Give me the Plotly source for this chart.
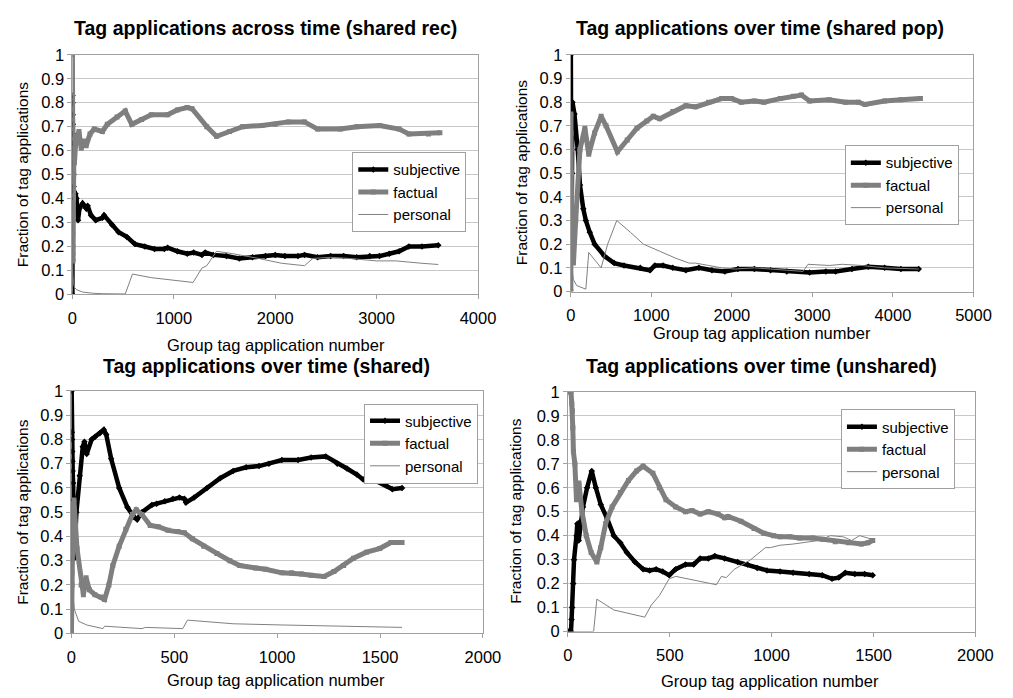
import plotly.graph_objects as go

# ---------------- data ----------------
# Panel 1: shared rec
p1_subj_x = [0, 1, 2, 3, 4, 5, 6, 7, 8, 10, 12, 15, 20, 30, 40, 55, 70, 100, 135, 150, 183, 230, 296, 312, 392, 456, 537, 617, 714, 810, 907, 939, 1035, 1132, 1196, 1277, 1309, 1389, 1518, 1646, 1775, 1904, 2000, 2096, 2225, 2289, 2418, 2547, 2675, 2804, 2932, 3029, 3125, 3222, 3318, 3447, 3608]
p1_subj_y = [0, 0.83, 0.8, 0.75, 0.71, 0.67, 0.63, 0.6, 0.55, 0.5, 0.45, 0.43, 0.4, 0.42, 0.4, 0.31, 0.36, 0.38, 0.36, 0.37, 0.33, 0.31, 0.32, 0.33, 0.29, 0.26, 0.24, 0.21, 0.2, 0.19, 0.19, 0.195, 0.18, 0.17, 0.175, 0.165, 0.175, 0.165, 0.16, 0.15, 0.155, 0.16, 0.165, 0.16, 0.16, 0.165, 0.155, 0.16, 0.16, 0.155, 0.16, 0.16, 0.17, 0.18, 0.2, 0.2, 0.205]
p1_fact_x = [0, 1, 2, 3, 4, 5, 6, 8, 12, 15, 20, 30, 45, 64, 87, 119, 135, 174, 215, 296, 344, 440, 521, 585, 682, 778, 939, 1035, 1132, 1180, 1325, 1421, 1550, 1678, 1871, 2000, 2129, 2289, 2418, 2643, 2804, 3029, 3222, 3318, 3511, 3624]
p1_fact_y = [1.0, 0.5, 0.33, 0.25, 0.2, 0.17, 0.14, 0.33, 0.5, 0.6, 0.55, 0.62, 0.66, 0.68, 0.61, 0.64, 0.62, 0.67, 0.69, 0.68, 0.71, 0.74, 0.765, 0.71, 0.73, 0.75, 0.75, 0.77, 0.78, 0.775, 0.7, 0.66, 0.68, 0.7, 0.705, 0.71, 0.72, 0.72, 0.69, 0.69, 0.7, 0.705, 0.69, 0.67, 0.67, 0.675]
p1_pers_x = [0, 2, 5, 10, 20, 40, 100, 200, 300, 521, 592, 778, 1003, 1190, 1277, 1325, 1421, 1582, 1839, 2064, 2289, 2370, 2547, 2740, 2997, 3190, 3447, 3608]
p1_pers_y = [0, 0.15, 0.08, 0.05, 0.03, 0.02, 0.01, 0.005, 0.003, 0.002, 0.085, 0.07, 0.06, 0.05, 0.11, 0.12, 0.18, 0.17, 0.15, 0.13, 0.12, 0.15, 0.155, 0.15, 0.14, 0.14, 0.13, 0.125]

# Panel 2: shared pop
p2_subj_x = [0, 2, 4, 6, 8, 10, 14, 20, 45, 85, 113, 154, 186, 235, 295, 417, 538, 660, 862, 983, 1044, 1145, 1266, 1428, 1590, 1752, 1913, 2075, 2278, 2480, 2682, 2965, 3167, 3289, 3491, 3693, 3896, 4098, 4320]
p2_subj_y = [1.0, 0.5, 0.33, 0.25, 0.2, 0.3, 0.5, 0.8, 0.75, 0.6, 0.45, 0.35, 0.3, 0.25, 0.2, 0.15, 0.12, 0.11, 0.1, 0.09, 0.11, 0.11, 0.1, 0.09, 0.1, 0.09, 0.085, 0.095, 0.095, 0.09, 0.085, 0.08, 0.085, 0.085, 0.095, 0.105, 0.1, 0.095, 0.095]
p2_fact_x = [0, 1, 2, 3, 4, 5, 6, 8, 12, 20, 32, 60, 113, 174, 222, 295, 376, 437, 578, 700, 821, 943, 1023, 1104, 1266, 1428, 1550, 1711, 1873, 1994, 2116, 2278, 2399, 2601, 2763, 2864, 2965, 3208, 3410, 3572, 3653, 3896, 4098, 4341]
p2_fact_y = [0, 0.75, 0.67, 0.6, 0.5, 0.4, 0.33, 0.25, 0.2, 0.15, 0.12, 0.3, 0.6, 0.69, 0.58, 0.67, 0.74, 0.7, 0.59, 0.64, 0.69, 0.72, 0.74, 0.73, 0.76, 0.785, 0.78, 0.8, 0.815, 0.815, 0.8, 0.805, 0.8, 0.815, 0.825, 0.83, 0.805, 0.81, 0.8, 0.8, 0.79, 0.805, 0.81, 0.815]
p2_pers_x = [0, 2, 12, 32, 73, 134, 186, 222, 376, 457, 570, 740, 902, 1104, 1307, 1469, 1550, 1711, 1873, 2035, 2278, 2682, 2884, 2945, 3208, 3370, 3612, 3896, 4320]
p2_pers_y = [0, 0.3, 0.1, 0.05, 0.025, 0.015, 0.01, 0.165, 0.1, 0.2, 0.3, 0.25, 0.2, 0.17, 0.14, 0.12, 0.12, 0.11, 0.1, 0.095, 0.1, 0.09, 0.085, 0.115, 0.11, 0.115, 0.11, 0.1, 0.095]

# Panel 3: shared
p3_subj_x = [0, 1, 2, 3, 4, 5, 6, 8, 10, 14, 24, 40, 55, 63, 74, 98, 114, 138, 157, 169, 193, 232, 272, 304, 319, 343, 391, 414, 454, 493, 525, 549, 557, 596, 659, 723, 786, 849, 912, 960, 1023, 1102, 1165, 1236, 1292, 1339, 1387, 1418, 1466, 1530, 1560, 1607]
p3_subj_y = [0, 1.0, 0.83, 0.8, 0.75, 0.71, 0.67, 0.62, 0.55, 0.31, 0.5, 0.65, 0.77, 0.79, 0.74, 0.8, 0.81, 0.825, 0.84, 0.82, 0.72, 0.6, 0.52, 0.48, 0.47, 0.5, 0.53, 0.535, 0.545, 0.555, 0.56, 0.555, 0.54, 0.56, 0.6, 0.64, 0.67, 0.685, 0.69, 0.7, 0.715, 0.715, 0.725, 0.73, 0.7, 0.68, 0.655, 0.635, 0.635, 0.61, 0.595, 0.6]
p3_fact_x = [0, 1, 2, 3, 4, 6, 8, 12, 27, 47, 58, 71, 87, 114, 145, 161, 182, 201, 232, 264, 296, 315, 343, 383, 422, 470, 517, 549, 588, 643, 707, 770, 818, 896, 944, 1023, 1070, 1118, 1165, 1228, 1276, 1323, 1371, 1434, 1498, 1553, 1607]
p3_fact_y = [0, 0.33, 0.25, 0.2, 0.33, 0.4, 0.5, 0.55, 0.35, 0.2, 0.16, 0.23, 0.18, 0.16, 0.15, 0.14, 0.2, 0.28, 0.36, 0.43, 0.49, 0.51, 0.49, 0.445, 0.44, 0.425, 0.42, 0.415, 0.39, 0.36, 0.33, 0.3, 0.28, 0.27, 0.265, 0.25, 0.25, 0.245, 0.24, 0.235, 0.255, 0.28, 0.31, 0.335, 0.35, 0.375, 0.375]
p3_pers_x = [0, 3, 14, 35, 74, 122, 153, 161, 232, 343, 359, 470, 541, 564, 628, 786, 1023, 1260, 1607]
p3_pers_y = [0, 0.2, 0.1, 0.05, 0.035, 0.025, 0.02, 0.03, 0.025, 0.02, 0.025, 0.022, 0.02, 0.055, 0.05, 0.04, 0.035, 0.03, 0.025]

# Panel 4: unshared
p4_subj_x = [0, 5, 10, 15, 18, 21, 26, 30, 42, 46, 53, 62, 74, 94, 117, 137, 161, 193, 225, 257, 289, 329, 369, 401, 433, 465, 497, 529, 577, 617, 649, 689, 721, 769, 833, 881, 929, 977, 1041, 1105, 1184, 1248, 1296, 1329, 1361, 1408, 1456, 1496]
p4_subj_y = [0, 0, 0, 0, 0.05, 0.1, 0.2, 0.3, 0.4, 0.45, 0.38, 0.46, 0.52, 0.6, 0.67, 0.6, 0.53, 0.47, 0.4, 0.37, 0.33, 0.29, 0.26, 0.255, 0.26, 0.25, 0.235, 0.26, 0.28, 0.28, 0.305, 0.305, 0.315, 0.305, 0.29, 0.28, 0.265, 0.255, 0.25, 0.245, 0.24, 0.235, 0.22, 0.225, 0.245, 0.24, 0.24, 0.235]
p4_fact_x = [0, 5, 10, 15, 19, 22, 24, 27, 34, 42, 54, 69, 90, 114, 142, 161, 185, 217, 257, 297, 337, 369, 417, 449, 481, 529, 577, 609, 649, 689, 737, 769, 785, 849, 913, 961, 1009, 1041, 1089, 1137, 1201, 1248, 1312, 1376, 1440, 1472, 1496]
p4_fact_y = [1.0, 1.0, 1.0, 1.0, 0.95, 0.92, 0.85, 0.75, 0.7, 0.55, 0.62, 0.5, 0.4, 0.33, 0.29, 0.35, 0.45, 0.52, 0.58, 0.63, 0.67, 0.69, 0.66, 0.6, 0.55, 0.52, 0.5, 0.505, 0.49, 0.5, 0.49, 0.475, 0.48, 0.46, 0.43, 0.41, 0.4, 0.395, 0.395, 0.39, 0.39, 0.385, 0.375, 0.37, 0.365, 0.37, 0.38]
p4_pers_x = [0, 126, 142, 225, 377, 409, 449, 497, 529, 593, 673, 729, 753, 777, 817, 897, 969, 993, 1041, 1105, 1184, 1232, 1288, 1352, 1392, 1432, 1472, 1496]
p4_pers_y = [0, 0, 0.135, 0.09, 0.06, 0.11, 0.15, 0.22, 0.23, 0.22, 0.205, 0.195, 0.23, 0.225, 0.26, 0.3, 0.35, 0.35, 0.36, 0.365, 0.375, 0.38, 0.4, 0.395, 0.38, 0.4, 0.39, 0.385]

titles = ["Tag applications across time (shared rec)", "Tag applications over time (shared pop)",
          "Tag applications over time (shared)", "Tag applications over time (unshared)"]
series_names = ["subjective", "factual", "personal"]
x_ranges = [4000, 5000, 2000, 2000]
x_dticks = [1000, 1000, 500, 500]
y_tickvals = [0, 0.1, 0.2, 0.3, 0.4, 0.5, 0.6, 0.7, 0.8, 0.9, 1.0]
y_ticktext = ["0", "0.1", "0.2", "0.3", "0.4", "0.5", "0.6", "0.7", "0.8", "0.9", "1"]
x_title = "Group tag application number"
y_title = "Fraction of tag applications"

panels = [
    (p1_subj_x, p1_subj_y, p1_fact_x, p1_fact_y, p1_pers_x, p1_pers_y),
    (p2_subj_x, p2_subj_y, p2_fact_x, p2_fact_y, p2_pers_x, p2_pers_y),
    (p3_subj_x, p3_subj_y, p3_fact_x, p3_fact_y, p3_pers_x, p3_pers_y),
    (p4_subj_x, p4_subj_y, p4_fact_x, p4_fact_y, p4_pers_x, p4_pers_y),
]

# ---------------- layout geometry (pixels) ----------------
W, H = 1013, 698
FONT = "Liberation Sans, Arial, sans-serif"
# plot area boxes: left, right, top, bottom
boxes = [(69, 484, 47, 293), (579, 991, 47, 290), (68, 489, 392, 641), (576, 993, 393, 639)]
# legend: right edge, top edge
legend_pos = [(472, 147), (976, 140), (484, 405), (972, 411)]
title_pos = [(267, 20), (773, 20), (268, 366), (774, 366)]
xtitle_pos = [(277, 345), (775, 333), (277, 689), (783, 690)]
ytitle_x = [18, 528, 18, 523]

SUBJ_C = "#000000"
FACT_C = "#7f7f7f"
PERS_C = "#808080"

fig = go.Figure()
annotations = []
layout_axes = {}
for i, (sx, sy, fx, fy, px, py) in enumerate(panels):
    n = "" if i == 0 else str(i + 1)
    xa, ya = "x" + n, "y" + n
    leg = "legend" + n
    fig.add_trace(go.Scatter(x=sx, y=sy, name=series_names[0], mode="lines+markers",
                             line=dict(color=SUBJ_C, width=4.5),
                             marker=dict(symbol="diamond", size=5, color=SUBJ_C),
                             xaxis=xa, yaxis=ya, legend=leg))
    fig.add_trace(go.Scatter(x=fx, y=fy, name=series_names[1], mode="lines+markers",
                             line=dict(color=FACT_C, width=5),
                             marker=dict(symbol="square", size=5, color=FACT_C),
                             xaxis=xa, yaxis=ya, legend=leg))
    fig.add_trace(go.Scatter(x=px, y=py, name=series_names[2], mode="lines",
                             line=dict(color=PERS_C, width=1),
                             xaxis=xa, yaxis=ya, legend=leg))
    l, r, t, b = boxes[i]
    layout_axes["xaxis" + n] = dict(
        domain=[l / W, r / W], range=[0, x_ranges[i]], dtick=x_dticks[i], tick0=0,
        anchor=ya, showgrid=False, zeroline=False, showline=True, mirror=True,
        linecolor="#a0a0a0", linewidth=1, ticks="outside", ticklen=4, tickcolor="#a0a0a0",
        tickfont=dict(family=FONT, size=16.5, color="#000"), ticklabelstandoff=5)
    layout_axes["yaxis" + n] = dict(
        domain=[1 - b / H, 1 - t / H], range=[0, 1], tickvals=y_tickvals, ticktext=y_ticktext,
        anchor=xa, showgrid=True, gridcolor="#c8c8c8", gridwidth=1, zeroline=False,
        showline=True, mirror=True, linecolor="#a0a0a0", linewidth=1,
        ticks="outside", ticklen=4, tickcolor="#a0a0a0",
        tickfont=dict(family=FONT, size=16.5, color="#000"))
    lx, ly = legend_pos[i]
    layout_axes[leg] = dict(x=lx / W, y=1 - ly / H, xanchor="right", yanchor="top",
                            bgcolor="#ffffff", bordercolor="#a0a0a0", borderwidth=1,
                            font=dict(family=FONT, size=15, color="#000"),
                            tracegroupgap=0, itemwidth=30)
    tx, ty = title_pos[i]
    annotations.append(dict(text="<b>" + titles[i] + "</b>", x=tx / W, y=1 - ty / H,
                            xref="paper", yref="paper", showarrow=False,
                            xanchor="center", yanchor="middle",
                            font=dict(family=FONT, size=19.5, color="#000")))
    xx, xy = xtitle_pos[i]
    annotations.append(dict(text=x_title, x=xx / W, y=1 - xy / H, xref="paper", yref="paper",
                            showarrow=False, xanchor="center", yanchor="middle",
                            font=dict(family=FONT, size=16.5, color="#000")))
    annotations.append(dict(text=y_title, x=ytitle_x[i] / W, y=1 - ((t + b) / 2) / H,
                            xref="paper", yref="paper", showarrow=False, textangle=-90,
                            xanchor="center", yanchor="middle",
                            font=dict(family=FONT, size=15.5, color="#000")))

fig.update_layout(width=W, height=H, margin=dict(l=0, r=0, t=0, b=0),
                  paper_bgcolor="#ffffff", plot_bgcolor="#ffffff",
                  showlegend=True, annotations=annotations, **layout_axes)
fig.write_html("out.html")
